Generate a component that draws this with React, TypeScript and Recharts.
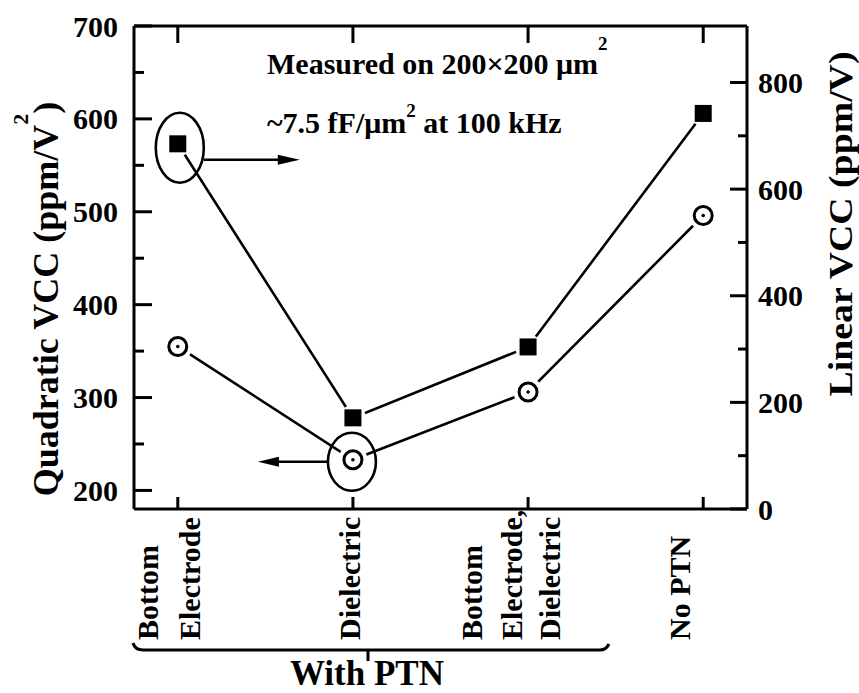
import React from 'react';
import { LineChart, Line, XAxis, YAxis, ReferenceDot } from 'recharts';

// chart values
const categories = [['Bottom', 'Electrode'], ['Dielectric'], ['Bottom', 'Electrode,', 'Dielectric'], ['No PTN']];
const quadraticVcc = [355, 233, 306, 496]; // left axis, ppm/V^2 (open circles)
const linearVcc = [685, 171, 304, 742]; // right axis, ppm/V (filled squares)
const leftTicks = [200, 250, 300, 350, 400, 450, 500, 550, 600, 650, 700];
const rightTicks = [0, 100, 200, 300, 400, 500, 600, 700, 800];
const categoryTicks = [0, 1, 2, 3];

const data = categories.map((_, i) => ({ idx: i, quad: quadraticVcc[i], linear: linearVcc[i] }));

const FONT = "'Times New Roman', Times, Tinos, 'Liberation Serif', 'DejaVu Serif', 'Noto Serif', serif";
const LW = 2.6;

// per-category x offsets of the label lines (they were hand placed in the original)
const labelOffsets = [[-20, 22], [7], [-46, -6, 32], [-13]];

const txt = { fontFamily: FONT, fontWeight: 700, fill: '#000' };

const LeftTick = (props: any) => {
  const { x, y, payload } = props;
  const major = payload.value % 100 === 0;
  return (
    <g>
      <line x1={x} y1={y} x2={x + (major ? 18 : 10)} y2={y} stroke="#000" strokeWidth={3} />
      {major && (
        <text x={x - 16} y={y} dy="0.35em" textAnchor="end" fontSize={30} style={txt}>
          {payload.value}
        </text>
      )}
    </g>
  );
};

const RightTick = (props: any) => {
  const { x, y, payload } = props;
  const major = payload.value % 200 === 0;
  return (
    <g>
      <line x1={x} y1={y} x2={x - (major ? 17 : 9)} y2={y} stroke="#000" strokeWidth={3} />
      {major && (
        <text x={x + 11} y={y} dy="0.35em" textAnchor="start" fontSize={30} style={txt}>
          {payload.value}
        </text>
      )}
    </g>
  );
};

const BottomTick = (props: any) => {
  const { x, y, payload } = props;
  const lines = categories[payload.value] || [];
  const offs = labelOffsets[payload.value] || [];
  return (
    <g>
      <line x1={x} y1={y} x2={x} y2={y - 12} stroke="#000" strokeWidth={3} />
      {lines.map((t, i) => (
        <text
          key={i}
          transform={`translate(${x + offs[i]}, ${y + 131}) rotate(-90)`}
          textAnchor="start"
          fontSize={30}
          style={txt}
        >
          {t}
        </text>
      ))}
    </g>
  );
};

const TopTick = (props: any) => {
  const { x, y } = props;
  return <line x1={x} y1={y} x2={x} y2={y + 17} stroke="#000" strokeWidth={3} />;
};

const SquareDot = (props: any) => {
  const { cx, cy, index } = props;
  return (
    <g key={`sq-${index}`}>
      <circle cx={cx} cy={cy} r={13} fill="#fff" />
      <rect x={cx - 8.5} y={cy - 8.5} width={17} height={17} fill="#000" />
    </g>
  );
};

const CircleDot = (props: any) => {
  const { cx, cy, index } = props;
  return (
    <g key={`ci-${index}`}>
      <circle cx={cx} cy={cy} r={14.5} fill="#fff" />
      <circle cx={cx} cy={cy} r={9} fill="#fff" stroke="#000" strokeWidth={3} />
      <circle cx={cx} cy={cy} r={1.8} fill="#000" />
    </g>
  );
};

// ellipse + arrow pointing at the axis a series belongs to
const RightMarker = (p: any) => (
  <g>
    <ellipse cx={p.cx + 2} cy={p.cy + 4} rx={24} ry={35} fill="none" stroke="#000" strokeWidth={LW} />
    <line x1={p.cx + 26} y1={p.cy + 16} x2={p.cx + 104} y2={p.cy + 16} stroke="#000" strokeWidth={LW} />
    <polygon points={`${p.cx + 122},${p.cy + 16} ${p.cx + 100},${p.cy + 11} ${p.cx + 100},${p.cy + 21}`} fill="#000" />
  </g>
);

const LeftMarker = (p: any) => (
  <g>
    <ellipse cx={p.cx - 1} cy={p.cy + 2} rx={24} ry={29} fill="none" stroke="#000" strokeWidth={LW} />
    <line x1={p.cx - 25} y1={p.cy + 2} x2={p.cx - 77} y2={p.cy + 2} stroke="#000" strokeWidth={LW} />
    <polygon points={`${p.cx - 95},${p.cy + 2} ${p.cx - 74},${p.cy - 3} ${p.cx - 74},${p.cy + 7}`} fill="#000" />
  </g>
);

export default function App() {
  return (
    <div style={{ position: 'absolute', left: 0, top: 0, width: 859, height: 693, background: '#fff', fontFamily: FONT }}>
      <LineChart width={859} height={693} data={data} margin={{ top: 0, right: 0, bottom: 0, left: 0 }}>
        <XAxis
          xAxisId="bottom"
          dataKey="idx"
          type="number"
          domain={[-0.25, 3.25]}
          ticks={categoryTicks}
          interval={0}
          height={184}
          tickSize={0}
          tickMargin={0}
          axisLine={{ stroke: '#000', strokeWidth: 3 }}
          tickLine={false}
          tick={<BottomTick />}
        />
        <XAxis
          xAxisId="top"
          orientation="top"
          dataKey="idx"
          type="number"
          domain={[-0.25, 3.25]}
          ticks={categoryTicks}
          interval={0}
          height={26}
          tickSize={0}
          tickMargin={0}
          axisLine={{ stroke: '#000', strokeWidth: 3 }}
          tickLine={false}
          tick={<TopTick />}
        />
        <YAxis
          yAxisId="left"
          type="number"
          domain={[180, 700]}
          ticks={leftTicks}
          interval={0}
          width={134}
          tickSize={0}
          tickMargin={0}
          axisLine={{ stroke: '#000', strokeWidth: 3 }}
          tickLine={false}
          tick={<LeftTick />}
        />
        <YAxis
          yAxisId="right"
          orientation="right"
          type="number"
          domain={[0, 906]}
          ticks={rightTicks}
          interval={0}
          width={112}
          tickSize={0}
          tickMargin={0}
          axisLine={{ stroke: '#000', strokeWidth: 3 }}
          tickLine={false}
          tick={<RightTick />}
        />
        <Line
          xAxisId="bottom"
          yAxisId="right"
          type="linear"
          dataKey="linear"
          stroke="#000"
          strokeWidth={LW}
          dot={SquareDot}
          activeDot={false}
          isAnimationActive={false}
        />
        <Line
          xAxisId="bottom"
          yAxisId="left"
          type="linear"
          dataKey="quad"
          stroke="#000"
          strokeWidth={LW}
          dot={CircleDot}
          activeDot={false}
          isAnimationActive={false}
        />
        <ReferenceDot xAxisId="bottom" yAxisId="right" x={0} y={linearVcc[0]} shape={RightMarker} />
        <ReferenceDot xAxisId="bottom" yAxisId="left" x={1} y={quadraticVcc[1]} shape={LeftMarker} />
      </LineChart>

      <svg width={859} height={693} style={{ position: 'absolute', left: 0, top: 0, pointerEvents: 'none' }}>
        <text x={267} y={74} fontSize={30} style={txt}>
          Measured on 200×200 μm<tspan dy={-24} fontSize={19}>2</tspan>
        </text>
        <text x={267} y={133} fontSize={30} style={txt}>
          ~7.5 fF/μm<tspan dy={-16} fontSize={19}>2</tspan>
          <tspan dy={16}> at 100 kHz</tspan>
        </text>

        <text transform="translate(58, 299) rotate(-90)" textAnchor="middle" fontSize={36} style={txt}>
          Quadratic VCC (ppm/V<tspan dy={-30} fontSize={22}>2</tspan>
          <tspan dy={30}>)</tspan>
        </text>
        <text
          transform="translate(852, 224) rotate(-90)"
          textAnchor="middle"
          fontSize={34}
          textLength={345}
          lengthAdjust="spacingAndGlyphs"
          style={txt}
        >
          Linear VCC (ppm/V)
        </text>

        <path d="M133,643 Q135,650 143,650 L600,650 Q606,650 609,644" fill="none" stroke="#000" strokeWidth={3} />
        <line x1={368} y1={650} x2={368} y2={661} stroke="#000" strokeWidth={3} />
        <text x={290} y={685} fontSize={35} style={txt}>
          With PTN
        </text>
      </svg>
    </div>
  );
}
